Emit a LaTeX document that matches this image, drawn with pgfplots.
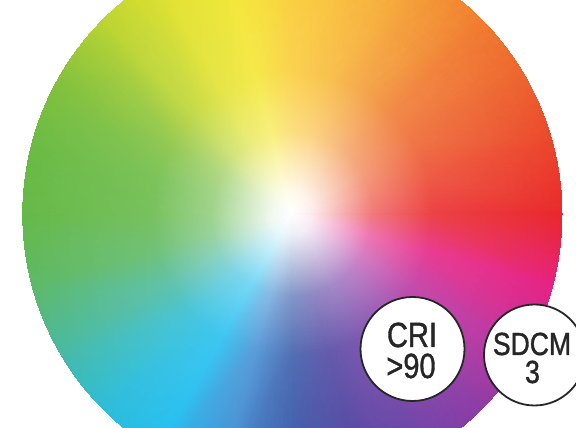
\documentclass[border=0pt]{standalone}
\usepackage{fontspec}
\setmainfont{Liberation Sans}
\newfontfamily\badge[FakeBold=1.2]{Liberation Sans}
\usepackage{pgfplots}
\usepackage{pgfplotstable}
\pgfplotsset{compat=1.18}

% colour wheel: angle (deg), relative radius, colour
\pgfplotstableread{
a r c
0 0 rgb255=255,255,255
0 0.08 rgb255=253,233,234
0 0.3 rgb255=241,120,123
0 0.52 rgb255=236,66,70
0 1.03 rgb255=233,38,42
15 0 rgb255=255,255,255
15 0.08 rgb255=253,236,234
15 0.3 rgb255=243,139,123
15 0.52 rgb255=238,92,70
15 1.03 rgb255=235,68,42
30 0 rgb255=255,255,255
30 0.08 rgb255=253,239,234
30 0.3 rgb255=244,158,124
30 0.52 rgb255=239,118,71
30 1.03 rgb255=237,98,44
45 0 rgb255=255,255,255
45 0.08 rgb255=254,242,234
45 0.3 rgb255=246,173,125
45 0.52 rgb255=242,139,73
45 1.03 rgb255=240,122,46
60 0 rgb255=255,255,255
60 0.08 rgb255=254,245,234
60 0.3 rgb255=248,193,128
60 0.52 rgb255=245,168,77
60 1.03 rgb255=244,155,50
75 0 rgb255=255,255,255
75 0.08 rgb255=254,248,235
75 0.3 rgb255=251,211,130
75 0.52 rgb255=249,193,80
75 1.03 rgb255=248,184,54
90 0 rgb255=255,255,255
90 0.08 rgb255=254,250,235
90 0.3 rgb255=252,223,130
90 0.52 rgb255=251,210,80
90 1.03 rgb255=250,203,54
105 0 rgb255=255,255,255
105 0.08 rgb255=254,252,234
105 0.3 rgb255=248,240,127
105 0.52 rgb255=245,233,75
105 1.03 rgb255=243,230,48
120 0 rgb255=255,255,255
120 0.08 rgb255=252,252,234
120 0.3 rgb255=236,236,125
120 0.52 rgb255=229,229,72
120 1.03 rgb255=225,225,45
135 0 rgb255=255,255,255
135 0.08 rgb255=248,251,234
135 0.3 rgb255=212,228,127
135 0.52 rgb255=195,217,75
135 1.03 rgb255=186,211,48
150 0 rgb255=255,255,255
150 0.08 rgb255=243,249,235
150 0.3 rgb255=179,217,133
150 0.52 rgb255=148,201,84
150 1.03 rgb255=132,193,58
165 0 rgb255=255,255,255
165 0.08 rgb255=240,248,236
165 0.3 rgb255=163,212,138
165 0.52 rgb255=125,195,91
165 1.03 rgb255=106,186,66
180 0 rgb255=255,255,255
180 0.08 rgb255=240,248,236
180 0.3 rgb255=159,211,140
180 0.52 rgb255=120,193,94
180 1.03 rgb255=100,184,70
195 0 rgb255=255,255,255
195 0.08 rgb255=239,248,240
195 0.3 rgb255=154,211,159
195 0.52 rgb255=113,193,120
195 1.03 rgb255=92,184,100
210 0 rgb255=255,255,255
210 0.08 rgb255=237,248,246
210 0.3 rgb255=142,212,196
210 0.52 rgb255=96,194,172
210 1.03 rgb255=72,185,160
225 0 rgb255=255,255,255
225 0.08 rgb255=234,248,251
225 0.3 rgb255=125,213,230
225 0.52 rgb255=72,197,220
225 1.03 rgb255=45,188,215
240 0 rgb255=255,255,255
240 0.08 rgb255=233,249,253
240 0.3 rgb255=117,215,246
240 0.52 rgb255=61,198,242
240 1.03 rgb255=32,190,240
255 0 rgb255=255,255,255
255 0.08 rgb255=236,244,250
255 0.3 rgb255=137,184,227
255 0.52 rgb255=90,155,216
255 1.03 rgb255=65,140,210
270 0 rgb255=255,255,255
270 0.08 rgb255=235,238,246
270 0.3 rgb255=131,151,201
270 0.52 rgb255=81,110,179
270 1.03 rgb255=55,88,168
285 0 rgb255=255,255,255
285 0.08 rgb255=237,236,246
285 0.3 rgb255=145,138,196
285 0.52 rgb255=101,91,172
285 1.03 rgb255=78,66,160
300 0 rgb255=255,255,255
300 0.08 rgb255=240,236,246
300 0.3 rgb255=164,137,199
300 0.52 rgb255=127,89,177
300 1.03 rgb255=108,64,165
315 0 rgb255=255,255,255
315 0.08 rgb255=244,235,246
315 0.3 rgb255=185,133,199
315 0.52 rgb255=157,84,177
315 1.03 rgb255=142,58,165
330 0 rgb255=255,255,255
330 0.08 rgb255=248,234,245
330 0.3 rgb255=213,127,195
330 0.52 rgb255=197,75,171
330 1.03 rgb255=188,48,158
345 0 rgb255=255,255,255
345 0.08 rgb255=252,233,242
345 0.3 rgb255=239,117,177
345 0.52 rgb255=233,61,146
345 1.03 rgb255=230,32,130
360 0 rgb255=255,255,255
360 0.08 rgb255=253,233,234
360 0.3 rgb255=241,120,123
360 0.52 rgb255=236,66,70
360 1.03 rgb255=233,38,42
}\wheel

\pgfplotsset{
  frame/.style={hide axis, scale only axis, width=576pt, height=428pt,
    xmin=0, xmax=576, ymin=0, ymax=428, at={(0pt,0pt)}, anchor=south west},
}
\tikzset{
  badgetext/.style={anchor=base, inner sep=0pt, text=black!85,
    font=\badge\fontsize{#1}{#1}\selectfont, xscale=0.83, transform shape},
}

\begin{document}
\begin{tikzpicture}
\begin{scope}
\clip (292pt,214pt) ellipse [x radius=270pt, y radius=274pt];
\begin{axis}[frame]
  \addplot[surf, shader=interp, mesh/color input=explicit, mesh/cols=5,
    point meta=explicit symbolic]
    table[x expr=292+270*\thisrow{r}*cos(\thisrow{a}),
          y expr=214+274*\thisrow{r}*sin(\thisrow{a}), meta=c] {\wheel};
\end{axis}
\end{scope}
\begin{axis}[frame, clip=false]
  \addplot[only marks, mark=*, mark size=52,
    mark options={fill=white, draw=black!85, line width=1.8pt}]
    coordinates {(412.5,79)};
  \addplot[only marks, mark=*, mark size=50.5,
    mark options={fill=white, draw=black!85, line width=1.8pt}]
    coordinates {(534.5,73)};
  \coordinate (cri1) at (axis cs:412,81);
  \coordinate (cri2) at (axis cs:411,50);
  \coordinate (sd1) at (axis cs:532,73);
  \coordinate (sd2) at (axis cs:532.5,45);
\end{axis}
\node[badgetext=35] at (cri1) {CRI};
\node[badgetext=35] at (cri2) {>90};
\node[badgetext=32] at (sd1) {SDCM};
\node[badgetext=32] at (sd2) {3};
\pgfresetboundingbox
\path[use as bounding box] (0pt,0pt) rectangle (576pt,428pt);
\end{tikzpicture}
\end{document}
